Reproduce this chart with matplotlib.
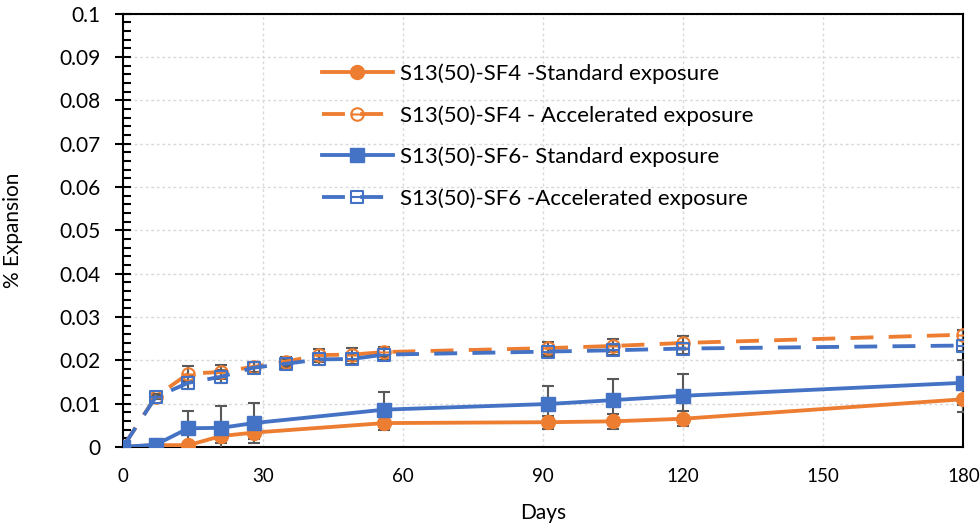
import numpy as np
import matplotlib.pyplot as plt
from matplotlib.path import Path
from matplotlib.lines import Line2D
from matplotlib.ticker import MultipleLocator

plt.rcParams['font.family'] = ['Lato', 'DejaVu Sans']

# data
days_std = [0, 7, 14, 21, 28, 56, 91, 105, 120, 180]
sf4_std = [0, 0.0004, 0.0004, 0.0025, 0.0033, 0.0055, 0.0057, 0.0059, 0.0065, 0.0110]
sf4_std_err = [0, 0.0003, 0.0004, 0.0015, 0.0015, 0.0015, 0.0015, 0.0017, 0.0017, 0.0030]
sf6_std = [0, 0.0005, 0.0043, 0.0044, 0.0055, 0.0086, 0.0099, 0.0108, 0.0118, 0.0148]
sf6_std_err = [0, 0.0003, 0.0040, 0.0050, 0.0047, 0.0040, 0.0042, 0.0048, 0.0050, 0.0052]

days_acc = [0, 7, 14, 21, 28, 35, 42, 49, 56, 91, 105, 120, 180]
sf4_acc = [0, 0.0116, 0.0169, 0.0173, 0.0185, 0.0197, 0.0212, 0.0213, 0.0219, 0.0228, 0.0233, 0.0240, 0.0259]
sf4_acc_err = [0, 0.0005, 0.0017, 0.0017, 0.0012, 0.0010, 0.0015, 0.0015, 0.0012, 0.0015, 0.0015, 0.0015, 0.0012]
sf6_acc = [0, 0.0115, 0.0148, 0.0162, 0.0183, 0.0192, 0.0202, 0.0203, 0.0213, 0.0220, 0.0223, 0.0227, 0.0234]
sf6_acc_err = [0, 0.0005, 0.0015, 0.0015, 0.0012, 0.0010, 0.0012, 0.0012, 0.0012, 0.0012, 0.0012, 0.0012, 0.0012]

labels = ['S13(50)-SF4 -Standard exposure',
          'S13(50)-SF4 - Accelerated exposure',
          'S13(50)-SF6- Standard exposure',
          'S13(50)-SF6 -Accelerated exposure']

orange = '#ED7D31'
blue = '#4472C4'
err_col = '#595959'

# circle / square with a horizontal bar through the middle
bar = Path([(-1, 0), (1, 0)], [Path.MOVETO, Path.LINETO])
circ_bar = Path.make_compound_path(Path.unit_circle(), bar)
sq = Path([(-1, -1), (1, -1), (1, 1), (-1, 1), (-1, -1)],
          [Path.MOVETO, Path.LINETO, Path.LINETO, Path.LINETO, Path.CLOSEPOLY])
sq_bar = Path.make_compound_path(sq, bar)

styles = [
    dict(color=orange, lw=2.75, marker='o', ms=10),
    dict(color=orange, lw=2.75, dashes=(6, 4), marker=circ_bar, ms=9, mfc='none', mew=1.5),
    dict(color=blue, lw=2.75, marker='s', ms=10),
    dict(color=blue, lw=2.75, dashes=(6, 4), marker=sq_bar, ms=9, mfc='none', mew=1.5),
]

fig = plt.figure(figsize=(9.8, 5.27), dpi=100)
ax = fig.add_axes([0.1255, 0.152, 0.8575, 0.822])

ekw = dict(ecolor=err_col, elinewidth=1.5, capsize=4.5, capthick=1.5)

ax.errorbar(days_std, sf4_std, yerr=sf4_std_err, zorder=3, **styles[0], **ekw)
ax.errorbar(days_acc, sf4_acc, yerr=sf4_acc_err, zorder=3, **styles[1], **ekw)
ax.errorbar(days_std, sf6_std, yerr=sf6_std_err, zorder=3, **styles[2], **ekw)
ax.errorbar(days_acc, sf6_acc, yerr=sf6_acc_err, zorder=3, **styles[3], **ekw)

ax.set_xlim(0, 180)
ax.set_ylim(0, 0.1)
ax.xaxis.set_major_locator(MultipleLocator(30))
ax.yaxis.set_minor_locator(MultipleLocator(0.002))
ax.set_yticks(np.arange(0, 0.1001, 0.01))
ax.set_yticklabels(['0'] + ['%g' % round(v, 2) for v in np.arange(0.01, 0.1001, 0.01)])

ax.grid(True, which='major', ls=(0, (2, 2)), color='#d9d9d9', lw=1)
ax.set_axisbelow(True)
for s in ax.spines.values():
    s.set_color('black')
    s.set_linewidth(1.5)

ax.tick_params(axis='y', which='major', direction='inout', length=12, width=1.5,
               labelsize=15, pad=10)
ax.tick_params(axis='y', which='minor', direction='in', length=6, width=1.5)
ax.tick_params(axis='x', which='both', length=0, labelsize=13.5, pad=15)

ax.set_xlabel('Days', fontsize=15, labelpad=13)
ax.set_ylabel('% Expansion', fontsize=15, labelpad=26)

handles = [Line2D([], [], **st) for st in styles]
ax.legend(handles, labels, loc='upper left', bbox_to_anchor=(0.308, 0.918),
          bbox_transform=fig.transFigure, frameon=False, fontsize=16,
          handlelength=3.2, handletextpad=0.3, labelspacing=0.95)

fig.savefig('out.png', dpi=100)
